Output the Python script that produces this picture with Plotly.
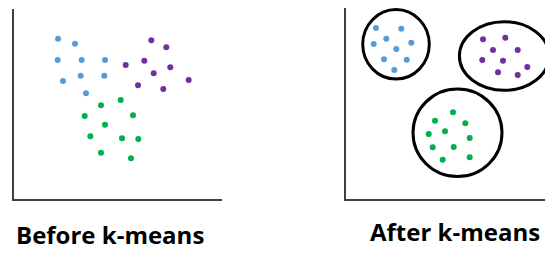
import plotly.graph_objects as go

# Before k-means (panel-local coordinates)
before_blue_x = [44, 61, 43.7, 67.7, 91, 49, 66.7, 90.3, 72]
before_blue_y = [160.3, 155.3, 139, 139, 139, 118, 123.3, 123.3, 105.7]
before_purple_x = [137.3, 152.3, 111.7, 130.3, 156.3, 139.7, 174.7, 124, 149.3]
before_purple_y = [158.7, 151.7, 134, 138.3, 131.7, 125.7, 119, 113.7, 110]
before_green_x = [106.7, 87, 70.7, 119, 91, 76.3, 108, 124.3, 87, 117]
before_green_y = [99, 93.7, 83, 83.7, 74.3, 62.7, 60.7, 60, 46.3, 40.7]

# After k-means
after_blue_x = [30, 55.3, 40.3, 27.7, 65.3, 50.3, 38, 60.7, 48.3]
after_blue_y = [171, 170.3, 160.3, 155, 156.3, 150, 139.7, 139.3, 129]
after_purple_x = [137, 159.3, 147, 171.7, 136.3, 157, 181.3, 152, 171.7]
after_purple_y = [159.7, 161.3, 149, 149, 139, 138.3, 132, 126.7, 124]
after_green_x = [107, 89, 119.3, 82.7, 99, 123.7, 86.7, 107.7, 96.7, 123.7]
after_green_y = [86.7, 78.3, 75.7, 65, 67.7, 61, 51.7, 52, 39.3, 41.7]

# cluster outlines: center x, center y, radius x, radius y
cluster_cx = [50, 158.2, 111.5]
cluster_cy = [154.7, 143, 66.2]
cluster_rx = [33.3, 44.8, 44.5]
cluster_ry = [34.7, 34.3, 43.8]

labels = ["Before k-means", "After k-means"]

BLUE = "#5B9BD5"
PURPLE = "#7030A0"
GREEN = "#00B050"

OFF = 8  # default body margin of the page
W, H = 553 - OFF, 253 - OFF

def fx(p):  # screen px -> paper fraction
    return (p - OFF) / W

def fy(p):
    return 1 - (p - OFF) / H

fig = go.Figure()

def pts(x, y, c, xa, ya):
    fig.add_trace(go.Scatter(x=x, y=y, mode="markers", xaxis=xa, yaxis=ya,
                             marker=dict(color=c, size=6, line=dict(width=0)),
                             showlegend=False, hoverinfo="skip"))

pts(before_blue_x, before_blue_y, BLUE, "x", "y")
pts(before_purple_x, before_purple_y, PURPLE, "x", "y")
pts(before_green_x, before_green_y, GREEN, "x", "y")
pts(after_blue_x, after_blue_y, BLUE, "x2", "y2")
pts(after_purple_x, after_purple_y, PURPLE, "x2", "y2")
pts(after_green_x, after_green_y, GREEN, "x2", "y2")

for cx, cy, rx, ry in zip(cluster_cx, cluster_cy, cluster_rx, cluster_ry):
    fig.add_shape(type="circle", xref="x2", yref="y2",
                  x0=cx - rx, x1=cx + rx, y0=cy - ry, y1=cy + ry,
                  line=dict(color="black", width=3), layer="below")

def ax(domain, rng, anchor):
    return dict(domain=domain, range=rng, showgrid=False, zeroline=False,
                showticklabels=False, ticks="", showline=True, anchor=anchor,
                linecolor="#404040", linewidth=2, fixedrange=True)

fig.update_layout(
    width=W, height=H, margin=dict(l=0, r=0, t=0, b=0),
    paper_bgcolor="white", plot_bgcolor="white",
    xaxis=ax([fx(14), fx(222)], [0, 208], "y"),
    yaxis=ax([fy(199), fy(9)], [0, 190], "x"),
    xaxis2=ax([fx(346), fx(553)], [0, 207], "y2"),
    yaxis2=ax([fy(199), fy(8)], [0, 191], "x2"),
    annotations=[
        dict(text="<b>" + labels[0] + "</b>", x=fx(109.5), y=fy(253),
             xref="paper", yref="paper", showarrow=False,
             xanchor="center", yanchor="bottom",
             font=dict(family="Open Sans", size=24, color="black")),
        dict(text="<b>" + labels[1] + "</b>", x=fx(454.5), y=fy(250),
             xref="paper", yref="paper", showarrow=False,
             xanchor="center", yanchor="bottom",
             font=dict(family="Open Sans", size=24, color="black")),
    ],
)

fig.write_html("out.html")
